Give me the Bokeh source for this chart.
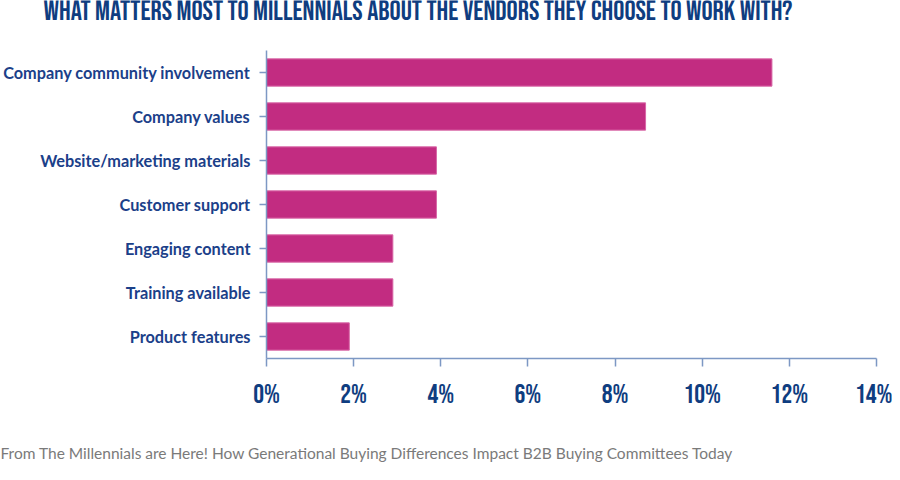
from bokeh.plotting import figure
from bokeh.models import Label, FixedTicker
from bokeh.layouts import column, row
from bokeh.embed import file_html
from bokeh.resources import INLINE

categories = [
    "Company community involvement",
    "Company values",
    "Website/marketing materials",
    "Customer support",
    "Engaging content",
    "Training available",
    "Product features",
]
values = [11.6, 8.7, 3.9, 3.9, 2.9, 2.9, 1.9]
tick_values = [0, 2, 4, 6, 8, 10, 12, 14]
tick_labels = ["0%", "2%", "4%", "6%", "8%", "10%", "12%", "14%"]
title_text = "WHAT MATTERS MOST TO MILLENNIALS ABOUT THE VENDORS THEY CHOOSE TO WORK WITH?"
source_text = "From The Millennials are Here! How Generational Buying Differences Impact B2B Buying Committees Today"

NAVY = "#0f3d80"
LABEL = "#1b4089"
AXIS = "#7d98c4"
BAR = "#c22c81"
W = 892


def text_strip(height):
    f = figure(width=W, height=height, output_backend="svg", toolbar_location=None,
               x_axis_type=None, y_axis_type=None,
               min_border_left=0, min_border_right=0, min_border_top=0, min_border_bottom=0,
               x_range=(0, 1), y_range=(0, 1))
    f.xgrid.visible = False
    f.ygrid.visible = False
    f.outline_line_color = None
    f.background_fill_color = "white"
    f.border_fill_color = "white"
    return f


# title strip
t = text_strip(30)
t.add_layout(Label(x=43, y=19, x_units="screen", y_units="screen",
                   text=title_text, text_font="Bebas Neue", text_font_style="normal",
                   text_font_size="27.8px", text_color=NAVY,
                   text_baseline="alphabetic", text_align="left"))

# main chart
p = figure(
    y_range=list(reversed(categories)),
    x_range=(0, 14),
    width=W, height=395,
    output_backend="svg", toolbar_location=None,
    min_border_left=266, min_border_right=16,
    min_border_top=20, min_border_bottom=67,
)
p.hbar(y=categories, right=values, left=0, height=0.62,
       fill_color=BAR, line_color="#d866a6", line_width=1)

p.xgrid.visible = False
p.ygrid.visible = False
p.outline_line_color = None
p.background_fill_color = "white"
p.border_fill_color = "white"

xa = p.xaxis[0]
xa.ticker = FixedTicker(ticks=tick_values)
xa.major_label_overrides = {v: l for v, l in zip(tick_values, tick_labels)}
xa.axis_line_color = AXIS
xa.axis_line_width = 1.5
xa.major_tick_line_color = AXIS
xa.major_tick_line_width = 1.5
xa.major_tick_out = 8
xa.major_tick_in = 0
xa.minor_tick_line_color = None
xa.major_label_standoff = 12
xa.major_label_text_font = "Bebas Neue"
xa.major_label_text_font_style = "normal"
xa.major_label_text_font_size = "27px"
xa.major_label_text_color = NAVY

ya = p.yaxis[0]
ya.axis_line_color = AXIS
ya.axis_line_width = 1.5
ya.major_tick_line_color = AXIS
ya.major_tick_line_width = 1.5
ya.major_tick_out = 7
ya.major_tick_in = 0
ya.minor_tick_line_color = None
ya.major_label_standoff = 9
ya.major_label_text_font = "Lato"
ya.major_label_text_font_style = "bold"
ya.major_label_text_font_size = "16.3px"
ya.major_label_text_color = LABEL

# source strip
s = text_strip(47)
s.add_layout(Label(x=0, y=20, x_units="screen", y_units="screen",
                   text=source_text, text_font="Lato", text_font_style="normal",
                   text_font_size="15.5px", text_color="#7a7a7a",
                   text_baseline="middle", text_align="left"))

layout = column(row(t), row(p), row(s), spacing=0)
open("out.html", "w").write(file_html(layout, INLINE))
